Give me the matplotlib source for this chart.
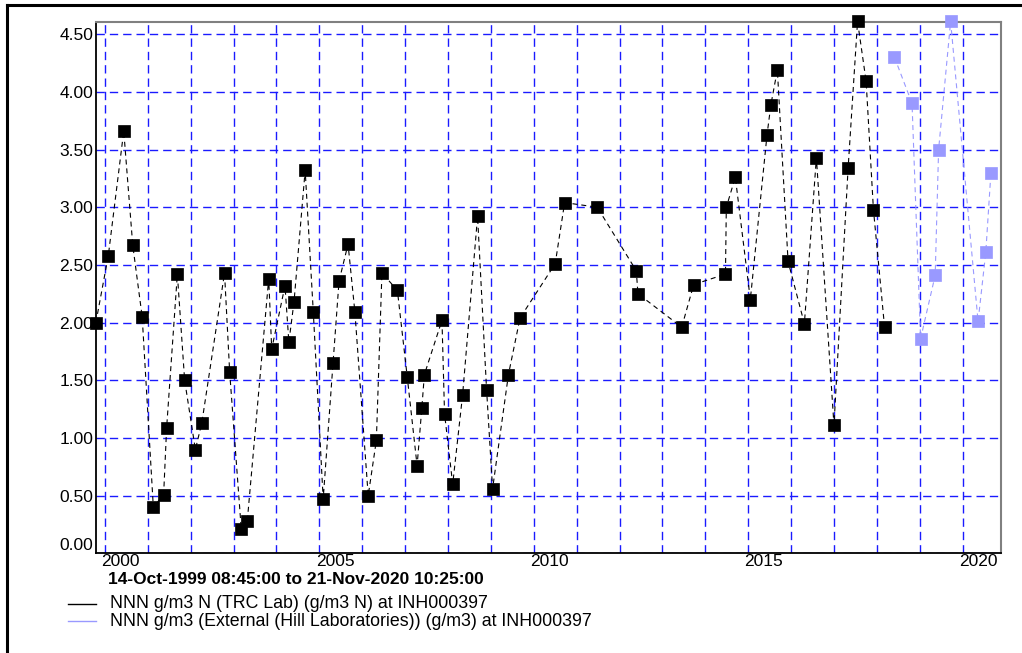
import matplotlib
matplotlib.use('Agg')
import matplotlib.pyplot as plt
from matplotlib.lines import Line2D
from matplotlib.ticker import FixedLocator, NullFormatter

# ---------------- data ----------------
trc_year = [1999.79, 2000.08, 2000.44, 2000.65, 2000.87, 2001.13, 2001.37, 2001.44,
            2001.69, 2001.86, 2002.11, 2002.26, 2002.79, 2002.91, 2003.18, 2003.32,
            2003.82, 2003.89, 2004.20, 2004.29, 2004.41, 2004.67, 2004.86, 2005.09,
            2005.32, 2005.46, 2005.67, 2005.83, 2006.14, 2006.33, 2006.46, 2006.82,
            2007.05, 2007.28, 2007.39, 2007.45, 2007.86, 2007.92, 2008.11, 2008.34,
            2008.69, 2008.90, 2009.04, 2009.41, 2009.68, 2010.50, 2010.72, 2011.48,
            2012.39, 2012.43, 2013.45, 2013.73, 2014.47, 2014.49, 2014.70, 2015.05,
            2015.44, 2015.53, 2015.68, 2015.93, 2016.31, 2016.59, 2017.00, 2017.33,
            2017.55, 2017.75, 2017.92, 2018.18]
trc_value = [2.00, 2.58, 3.66, 2.67, 2.05, 0.40, 0.51, 1.09,
             2.42, 1.50, 0.90, 1.13, 2.43, 1.57, 0.21, 0.28,
             2.38, 1.77, 2.32, 1.83, 2.18, 3.32, 2.09, 0.47,
             1.65, 2.36, 2.68, 2.09, 0.50, 0.98, 2.43, 2.28,
             1.53, 0.76, 1.26, 1.55, 2.02, 1.21, 0.60, 1.37,
             2.92, 1.42, 0.56, 1.55, 2.04, 2.51, 3.04, 3.00,
             2.45, 2.25, 1.96, 2.33, 2.42, 3.00, 3.26, 2.20,
             3.63, 3.89, 4.19, 2.53, 1.99, 3.43, 1.11, 3.34,
             4.61, 4.09, 2.98, 1.96]

hill_year = [2018.41, 2018.82, 2019.02, 2019.36, 2019.44, 2019.72, 2020.36, 2020.54, 2020.66]
hill_value = [4.30, 3.90, 1.86, 2.41, 3.50, 4.61, 2.01, 2.61, 3.30]

y_ticks = [0.0, 0.5, 1.0, 1.5, 2.0, 2.5, 3.0, 3.5, 4.0, 4.5]
y_tick_labels = ['0.00', '0.50', '1.00', '1.50', '2.00', '2.50', '3.00', '3.50', '4.00', '4.50']
grid_years = list(range(2000, 2021))
x_label_years = [2000, 2005, 2010, 2015, 2020]
x_start, x_end = 1999.786, 2020.89
y_top = 4.605

subtitle = '14-Oct-1999 08:45:00 to 21-Nov-2020 10:25:00'
legend_labels = ['NNN g/m3 N (TRC Lab) (g/m3 N) at INH000397',
                 'NNN g/m3 (External (Hill Laboratories)) (g/m3) at INH000397']

trc_color = '#000000'
hill_color = '#9999ff'
grid_color = '#1a1aff'

# ---------------- figure ----------------
plt.rcParams['font.family'] = ['Liberation Sans', 'DejaVu Sans']
W, H = 1022, 653
fig = plt.figure(figsize=(W / 100, H / 100), dpi=100)

L, R, T, B = 95.7, 1000.8, 22.0, 553.4
ax = fig.add_axes([L / W, 1 - B / H, (R - L) / W, (B - T) / H])
ax.set_xlim(x_start, x_end)
ax.set_ylim(0, y_top)

# grid
ax.xaxis.set_major_locator(FixedLocator(grid_years))
ax.xaxis.set_major_formatter(NullFormatter())
ax.xaxis.set_minor_locator(FixedLocator([y + 0.365 for y in x_label_years]))
ax.set_xticklabels([str(y) for y in x_label_years], minor=True)
ax.set_yticks(y_ticks)
ax.set_yticklabels(y_tick_labels)
ax.tick_params(axis='both', which='both', length=0, labelsize=12.5, colors='#000000')
ax.tick_params(axis='y', pad=1.8)
ax.tick_params(axis='x', which='minor', pad=0.5)
ax.yaxis.get_ticklabels()[0].set_va('bottom')

ax.grid(True, which='major', axis='both', color=grid_color, linewidth=1.0,
        linestyle=(0, (6.0, 3.6)))
ax.set_axisbelow(True)

for side in ['top', 'right']:
    ax.spines[side].set_color('#808080')
    ax.spines[side].set_linewidth(1.5)
for side in ['left', 'bottom']:
    ax.spines[side].set_color('#000000')
    ax.spines[side].set_linewidth(1.3)

# data
ax.plot(trc_year, trc_value, color=trc_color, linewidth=0.8, linestyle=(0, (4.5, 3.5)),
        marker='s', markersize=8.3, markerfacecolor=trc_color, markeredgecolor=trc_color,
        markeredgewidth=0.5, clip_on=False, zorder=3)
ax.plot(hill_year, hill_value, color=hill_color, linewidth=0.8, linestyle=(0, (4.5, 3.5)),
        marker='s', markersize=8.3, markerfacecolor=hill_color, markeredgecolor=hill_color,
        markeredgewidth=0.5, clip_on=False, zorder=3)

# subtitle
fig.text(108 / W, 1 - 580 / H, subtitle, fontsize=12.5, fontweight='bold',
         ha='left', va='center', color='#000000')

# legend (manual)
for i, (lab, col) in enumerate(zip(legend_labels, [trc_color, hill_color])):
    yy = 1 - (604 + 17 * i) / H
    fig.add_artist(Line2D([68 / W, 96 / W], [yy, yy], transform=fig.transFigure,
                          color=col, linewidth=1.0))
    fig.text(110 / W, yy, lab, fontsize=12.8, ha='left', va='center', color='#000000')

# outer frame (left and top)
fig.add_artist(Line2D([6.5 / W, 6.5 / W], [0, 1 - 5 / H], transform=fig.transFigure,
                      color='#000000', linewidth=2.2, solid_capstyle='projecting'))
fig.add_artist(Line2D([6.5 / W, 1], [1 - 5 / H, 1 - 5 / H], transform=fig.transFigure,
                      color='#000000', linewidth=2.2, solid_capstyle='projecting'))

fig.savefig('out.png', dpi=100)
